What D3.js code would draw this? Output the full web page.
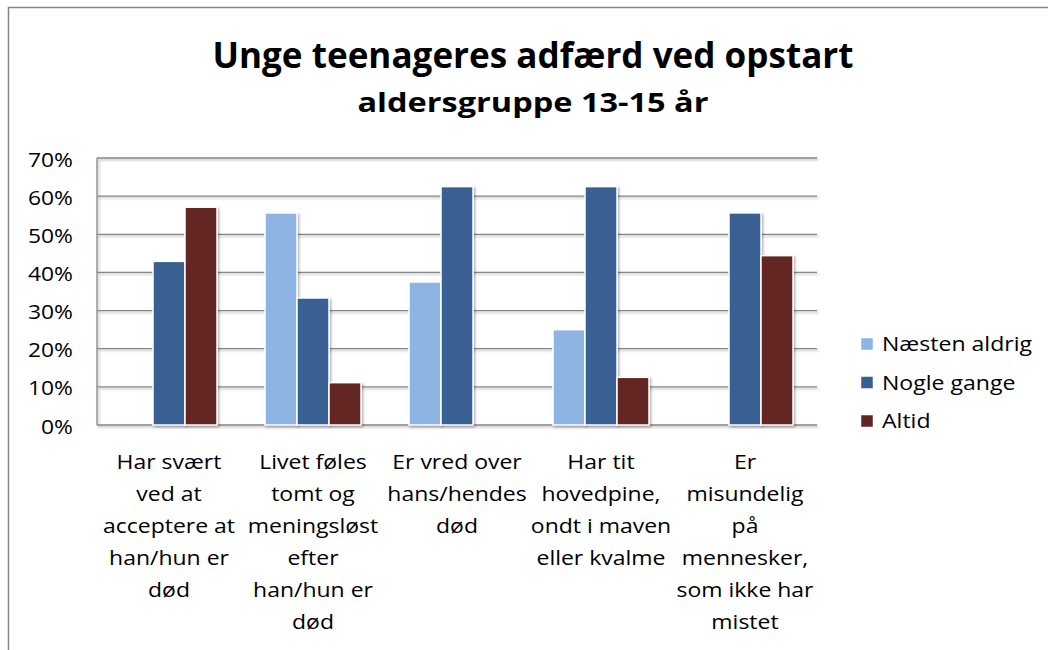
<!DOCTYPE html>
<html>
<head>
<meta charset="utf-8">
<script src="https://cdn.jsdelivr.net/npm/d3@7"></script>
<style>
html, body { margin: 0; background: #fff; overflow: hidden; }
#chart { display: block; }
svg text { font-family: "Open Sans", "Noto Sans", sans-serif; fill: #000; }
</style>
</head>
<body>
<svg id="chart" width="1048" height="650"></svg>
<script>
/* Unge teenageres adfærd ved opstart - grouped bars */
const series = ['Næsten aldrig', 'Nogle gange', 'Altid'];
const seriesColors = ['#8EB4E3', '#376092', '#632523'];
const categories = [
    ['Har svært', 'ved at', 'acceptere at', 'han/hun er', 'død'],
    ['Livet føles', 'tomt og', 'meningsløst', 'efter', 'han/hun er', 'død'],
    ['Er vred over', 'hans/hendes', 'død'],
    ['Har tit', 'hovedpine,', 'ondt i maven', 'eller kvalme'],
    ['Er', 'misundelig', 'på', 'mennesker,', 'som ikke har', 'mistet']
];
const naestenAldrig = [0, 55.6, 37.5, 25.0, 0];
const nogleGange = [42.9, 33.3, 62.5, 62.5, 55.6];
const altid = [57.1, 11.1, 0, 12.5, 44.4];
const yTicks = [0, 10, 20, 30, 40, 50, 60, 70];

const values = [naestenAldrig, nogleGange, altid];
const svg = d3.select('#chart');
const plot = { left: 97, right: 817, top: 158, bottom: 425 };

// squeeze text so the wide fallback font matches Calibri-ish widths
function squeeze(sel, k) {
    sel.each(function () {
        const w = this.getComputedTextLength();
        d3.select(this).attr('textLength', w * k).attr('lengthAdjust', 'spacingAndGlyphs');
    });
}
function fitWidth(node, target) {
    return target / node.getComputedTextLength();
}

const defs = svg.append('defs');
const f = defs.append('filter').attr('id', 'shadow').attr('x', '-20%').attr('y', '-20%').attr('width', '140%').attr('height', '140%');
f.append('feDropShadow').attr('dx', 1.5).attr('dy', 1.5).attr('stdDeviation', 1.2).attr('flood-color', '#000').attr('flood-opacity', 0.3);

// outer border
svg.append('rect').attr('x', 8.5).attr('y', 7.5).attr('width', 1060).attr('height', 660)
    .attr('fill', 'none').attr('stroke', '#868686').attr('stroke-width', 1.5);

// titles
const title = svg.append('text').attr('x', 533).attr('y', 68).attr('text-anchor', 'middle')
    .style('font-size', '36px').style('font-weight', 'bold').text('Unge teenageres adfærd ved opstart');
title.attr('textLength', 641).attr('lengthAdjust', 'spacingAndGlyphs');
const sub = svg.append('text').attr('x', 533).attr('y', 112).attr('text-anchor', 'middle')
    .style('font-size', '27px').style('font-weight', 'bold').text('aldersgruppe 13-15 år');
sub.attr('textLength', 351).attr('lengthAdjust', 'spacingAndGlyphs');

const x0 = d3.scaleBand().domain(d3.range(categories.length)).range([plot.left, plot.right])
    .paddingInner(1 / 3).paddingOuter(1 / 6);
const x1 = d3.scaleBand().domain(d3.range(series.length)).range([0, x0.bandwidth()]);
const y = d3.scaleLinear().domain([0, 70]).range([plot.bottom, plot.top]);

// gridlines
const grid = svg.append('g').attr('filter', 'url(#shadow)');
grid.selectAll('line').data(yTicks).enter().append('line')
    .attr('x1', plot.left).attr('x2', plot.right)
    .attr('y1', d => y(d)).attr('y2', d => y(d))
    .attr('stroke', '#868686').attr('stroke-width', 1.3);
grid.append('line').attr('x1', plot.left).attr('x2', plot.left).attr('y1', plot.top).attr('y2', plot.bottom)
    .attr('stroke', '#868686').attr('stroke-width', 1.3);

// y axis labels
const yAxis = svg.append('g').attr('transform', `translate(${plot.left - 24},0)`)
    .call(d3.axisLeft(y).tickValues(yTicks).tickFormat(d => d + '%').tickSize(0).tickPadding(0));
yAxis.select('.domain').remove();
yAxis.selectAll('text').style('font-size', '20px').attr('dy', '0.4em')
    .style('font-family', '"Open Sans", "Noto Sans", sans-serif').attr('fill', '#000');
{
    const ref = yAxis.selectAll('text').filter(d => d === 70).node();
    squeeze(yAxis.selectAll('text'), fitWidth(ref, 45));
}

// bars
const bars = [];
categories.forEach((c, i) => values.forEach((v, s) => {
    if (v[i] > 0) bars.push({ cat: i, s, v: v[i] });
}));
svg.append('g').selectAll('rect').data(bars).enter().append('rect')
    .attr('x', d => x0(d.cat) + x1(d.s))
    .attr('y', d => y(d.v))
    .attr('width', x1.bandwidth())
    .attr('height', d => y(0) - y(d.v))
    .attr('fill', d => seriesColors[d.s])
    .attr('stroke', '#fff').attr('stroke-width', 1.5)
    .attr('filter', 'url(#shadow)');

// category labels
const lab = svg.append('g');
categories.forEach((lines, i) => {
    const t = lab.append('text').attr('text-anchor', 'middle').style('font-size', '20px');
    lines.forEach((ln, j) => {
        t.append('tspan').attr('x', x0(i) + x0.bandwidth() / 2).attr('y', 469 + j * 32).text(ln);
    });
});
{
    const ref = lab.selectAll('tspan').filter(function () { return this.textContent === 'acceptere at'; }).node();
    squeeze(lab.selectAll('tspan'), fitWidth(ref, 132));
}

// legend
const leg = svg.append('g');
series.forEach((s, i) => {
    const cy = 344 + i * 38.5;
    leg.append('rect').attr('x', 861).attr('y', cy - 6).attr('width', 12).attr('height', 12)
        .attr('fill', seriesColors[i]).attr('stroke', '#fff').attr('stroke-width', 0.5);
    leg.append('text').attr('x', 882).attr('y', cy).attr('dy', '0.36em')
        .style('font-size', '20px').text(s);
});
{
    const ref = leg.selectAll('text').filter(function () { return this.textContent === 'Næsten aldrig'; }).node();
    squeeze(leg.selectAll('text'), fitWidth(ref, 150));
}
</script>
</body>
</html>
